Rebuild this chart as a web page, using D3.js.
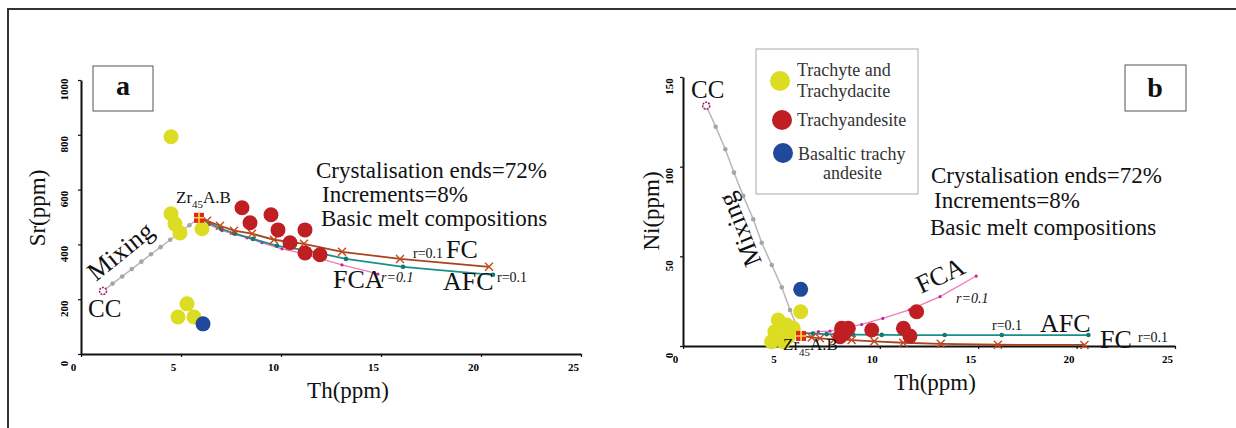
<!DOCTYPE html>
<html>
<head>
<meta charset="utf-8">
<script src="https://cdnjs.cloudflare.com/ajax/libs/d3/7.8.5/d3.min.js"></script>
<style>
body { margin: 0; background: #fff; }
svg { display: block; font-family: "Liberation Serif", "Times New Roman", serif; }
</style>
</head>
<body>
<svg id="fig" width="1236" height="428"></svg>
<script>
// ---- data ----
var thTicks = [0, 5, 10, 15, 20, 25];
var srTicks = [0, 200, 400, 600, 800, 1000];
var niTicks = [0, 50, 100, 150];

// panel a : Th vs Sr
var srTrachyte = [[4.5, 793], [4.5, 512], [4.7, 475], [4.95, 442], [6.05, 457], [5.3, 183], [4.85, 135], [5.65, 135]];
var srTrachyandesite = [[8.05, 534], [8.45, 479], [9.5, 508], [9.85, 453], [10.45, 406], [11.2, 453], [11.2, 369], [11.95, 362]];
var srBasaltic = [[6.1, 110]];
var srParent = [5.9, 497];
var srCC = [1.1, 230];
var srMixing = [[1.1, 230], [1.58, 257], [2.06, 283], [2.54, 310], [3.02, 337], [3.5, 364], [3.98, 390], [4.46, 417], [4.94, 444], [5.42, 470], [5.9, 497]];
var srFC = [[5.9, 497], [6.3, 486], [6.95, 468], [7.65, 450], [8.55, 439], [9.65, 417], [11.15, 402], [13.05, 373], [15.95, 347], [20.4, 318]];
var srAFC = [[5.9, 497], [6.4, 478], [7.0, 457], [7.7, 439], [8.6, 420], [9.8, 395], [11.35, 377], [13.25, 347], [16.1, 318], [20.6, 289]];
var srFCA = [[5.9, 497], [6.4, 472], [7.05, 450], [7.6, 439], [8.3, 424], [9.05, 406], [10.05, 384], [10.95, 369], [13.05, 325], [14.85, 292]];

// panel b : Th vs Ni
var niTrachyte = [[4.84, 14.5], [5.27, 11.7], [5.6, 9.9], [4.67, 8.0], [4.5, 2.4], [5.1, 2.4], [5.35, 5.2], [5.98, 19.1]];
var niTrachyandesite = [[8.06, 9.9], [8.4, 9.9], [7.98, 5.2], [8.2, 7.3], [9.59, 8.9], [11.2, 9.9], [11.53, 5.6], [11.87, 19.1]];
var niBasaltic = [[5.98, 31.6]];
var niParent = [6.0, 5.6];
var niCC = [1.18, 134];
var niMixing = [[1.18, 134], [1.66, 122.3], [2.15, 109.7], [2.59, 96.7], [3.06, 83.7], [3.57, 70.7], [4.0, 57.6], [4.51, 45.2], [5.02, 32.7], [5.44, 20.1], [6.0, 5.6]];
var niFC = [[6.0, 5.6], [6.54, 4.8], [6.96, 4.3], [7.7, 3.7], [8.57, 3.3], [9.72, 2.6], [11.19, 1.8], [13.1, 1.2], [16.0, 0.7], [20.4, 0.6]];
var niAFC = [[6.0, 7.5], [6.6, 6.9], [7.3, 6.6], [8.0, 6.4], [8.65, 6.3], [10.1, 6.2], [11.7, 6.1], [13.3, 6.1], [16.2, 6.1], [20.6, 6.1]];
var niFCA = [[6.0, 6.5], [6.88, 8.0], [7.47, 8.3], [9.08, 12.0], [10.15, 15.4], [11.5, 20.1], [13.06, 27.5], [14.9, 39]];

var legendNames = [['Trachyte and', 'Trachydacite'], ['Trachyandesite'], ['Basaltic trachy', 'andesite']];

var yellow = '#dcdc22', red = '#bf1e23', blue = '#1f4a9c';

var svg = d3.select('#fig');

// outer frame (only top and left edge fall inside the picture)
svg.append('rect')
    .attr('x', 8).attr('y', 9).attr('width', 1240).attr('height', 430)
    .attr('fill', 'none').attr('stroke', '#333').attr('stroke-width', 2);

function panel(cfg) {
    var x = d3.scaleLinear().domain([0, 25]).range(cfg.xRange);
    var y = d3.scaleLinear().domain(cfg.yDomain).range(cfg.yRange);
    var g = svg.append('g');

    var gx = g.append('g')
        .attr('transform', 'translate(0,' + cfg.yRange[0] + ')')
        .call(d3.axisBottom(x).tickValues(thTicks).tickSize(3).tickSizeOuter(0).tickFormat(d3.format('d')));
    var gy = g.append('g')
        .attr('transform', 'translate(' + cfg.xRange[0] + ',0)')
        .call(d3.axisLeft(y).tickValues(cfg.yTicks).tickSize(3).tickSizeOuter(0).tickFormat(d3.format('d')));

    [gx, gy].forEach(function (a) {
        a.attr('font-family', null).attr('font-size', 11).attr('font-weight', 'bold');
        a.select('.domain').attr('stroke', '#111').attr('stroke-width', 2);
        a.selectAll('.tick line').attr('stroke', '#111').attr('stroke-width', 1.2);
    });
    gx.selectAll('.tick text').attr('y', 17).attr('dy', 0).attr('x', -8);
    gy.selectAll('.tick text')
        .attr('x', 0).attr('dy', 0)
        .attr('text-anchor', 'middle')
        .attr('transform', 'translate(' + cfg.yLabelDx + ',9) rotate(-90)');

    var line = d3.line()
        .x(function (d) { return x(d[0]); })
        .y(function (d) { return y(d[1]); });

    // mixing
    g.append('path').attr('d', line(cfg.mixing))
        .attr('fill', 'none').attr('stroke', '#b8b8b8').attr('stroke-width', 1.5);
    g.selectAll('.mix').data(cfg.mixing.slice(1, -1)).enter().append('circle')
        .attr('cx', function (d) { return x(d[0]); })
        .attr('cy', function (d) { return y(d[1]); })
        .attr('r', 2.3).attr('fill', '#a5a5a5');

    // FCA
    g.append('path').attr('d', line(cfg.fca))
        .attr('fill', 'none').attr('stroke', '#f07ab8').attr('stroke-width', 1.3);
    g.selectAll('.fca').data(cfg.fca.slice(1)).enter().append('circle')
        .attr('cx', function (d) { return x(d[0]); })
        .attr('cy', function (d) { return y(d[1]); })
        .attr('r', 1.6).attr('fill', '#c8209a');

    // AFC
    g.append('path').attr('d', line(cfg.afc))
        .attr('fill', 'none').attr('stroke', '#1a8f8a').attr('stroke-width', 1.8);
    g.selectAll('.afc').data(cfg.afc.slice(1)).enter().append('circle')
        .attr('cx', function (d) { return x(d[0]); })
        .attr('cy', function (d) { return y(d[1]); })
        .attr('r', 2.3).attr('fill', '#127a76');

    // FC
    g.append('path').attr('d', line(cfg.fc))
        .attr('fill', 'none').attr('stroke', '#a8441e').attr('stroke-width', 1.8);
    g.selectAll('.fc').data(cfg.fc.slice(1)).enter().append('path')
        .attr('transform', function (d) { return 'translate(' + x(d[0]) + ',' + y(d[1]) + ')'; })
        .attr('d', 'M-4,-4L4,4M-4,4L4,-4')
        .attr('stroke', '#c8461c').attr('stroke-width', 1.4).attr('fill', 'none');

    // samples
    [[cfg.trachyte, yellow], [cfg.trachyandesite, red], [cfg.basaltic, blue]].forEach(function (s) {
        g.selectAll(null).data(s[0]).enter().append('circle')
            .attr('cx', function (d) { return x(d[0]); })
            .attr('cy', function (d) { return y(d[1]); })
            .attr('r', 7.5).attr('fill', s[1]);
    });

    // parent (Zr45 A.B) marker
    var p = g.append('g').attr('transform', 'translate(' + x(cfg.parent[0]) + ',' + y(cfg.parent[1]) + ')');
    p.append('rect').attr('x', -5).attr('y', -5).attr('width', 10).attr('height', 10).attr('fill', '#e8231e');
    p.append('path').attr('d', 'M-5,0H5M0,-5V5').attr('stroke', '#f5e23a').attr('stroke-width', 1.6);

    // CC marker
    g.append('circle')
        .attr('cx', x(cfg.cc[0])).attr('cy', y(cfg.cc[1])).attr('r', 3.5)
        .attr('fill', '#fff').attr('stroke', '#a0206a').attr('stroke-width', 1.6)
        .attr('stroke-dasharray', '2,1');

    return g;
}

function txt(g, s, px, py, size, extra) {
    var t = g.append('text').attr('x', px).attr('y', py).attr('font-size', size).attr('fill', '#111').text(s);
    if (extra) extra(t);
    return t;
}

function zrLabel(g, px, py, subDy) {
    var t = g.append('text').attr('x', px).attr('y', py).attr('font-size', 17).attr('fill', '#111');
    t.append('tspan').text('Zr');
    t.append('tspan').attr('font-size', 11).attr('dy', subDy).text('45');
    t.append('tspan').attr('dy', -subDy).text('A.B');
}

// ---------- panel a ----------
var ga = panel({
    xRange: [81, 581], yDomain: [0, 1000], yRange: [354, 80], yTicks: srTicks, yLabelDx: -13.5,
    trachyte: srTrachyte, trachyandesite: srTrachyandesite, basaltic: srBasaltic,
    parent: srParent, cc: srCC, mixing: srMixing, fc: srFC, afc: srAFC, fca: srFCA
});

ga.append('rect').attr('x', 93).attr('y', 66).attr('width', 60).attr('height', 45)
    .attr('fill', 'none').attr('stroke', '#555').attr('stroke-width', 1);
txt(ga, 'a', 123, 95, 28, function (t) { t.attr('font-weight', 'bold').attr('text-anchor', 'middle'); });

txt(ga, 'Sr(ppm)', 0, 0, 23, function (t) {
    t.attr('text-anchor', 'middle').attr('transform', 'translate(45,208) rotate(-90)');
});
txt(ga, 'Th(ppm)', 348, 398, 23, function (t) { t.attr('text-anchor', 'middle'); });

txt(ga, 'Crystalisation ends=72%', 316, 178, 23);
txt(ga, 'Increments=8%', 322, 202, 23);
txt(ga, 'Basic melt compositions', 321, 226, 23);

txt(ga, 'r=0.1', 413, 258, 14);
txt(ga, 'FC', 446, 258, 26);
txt(ga, 'FCA', 333, 288, 26);
txt(ga, 'r=0.1', 381, 282, 14, function (t) { t.attr('font-style', 'italic'); });
txt(ga, 'AFC', 443, 290, 26);
txt(ga, 'r=0.1', 497, 282, 14);
txt(ga, 'CC', 88, 317, 25);
txt(ga, 'Mixing', 0, 0, 26, function (t) { t.attr('transform', 'translate(96,282) rotate(-39)'); });
zrLabel(ga, 176, 203, 5);

// ---------- panel b ----------
var gb = panel({
    xRange: [683, 1175], yDomain: [0, 150], yRange: [346, 77], yTicks: niTicks, yLabelDx: -10.5,
    trachyte: niTrachyte, trachyandesite: niTrachyandesite, basaltic: niBasaltic,
    parent: niParent, cc: niCC, mixing: niMixing, fc: niFC, afc: niAFC, fca: niFCA
});

gb.append('rect').attr('x', 1125).attr('y', 65).attr('width', 61).attr('height', 46)
    .attr('fill', 'none').attr('stroke', '#555').attr('stroke-width', 1);
txt(gb, 'b', 1155, 97, 28, function (t) { t.attr('font-weight', 'bold').attr('text-anchor', 'middle'); });

txt(gb, 'Ni(ppm)', 0, 0, 23, function (t) {
    t.attr('text-anchor', 'middle').attr('transform', 'translate(659,211) rotate(-90)');
});
txt(gb, 'Th(ppm)', 935, 390, 23, function (t) { t.attr('text-anchor', 'middle'); });

txt(gb, 'Crystalisation ends=72%', 931, 183, 23);
txt(gb, 'Increments=8%', 934, 208, 23);
txt(gb, 'Basic melt compositions', 930, 235, 23);

txt(gb, 'FCA', 0, 0, 26, function (t) { t.attr('transform', 'translate(921,294) rotate(-25)'); });
txt(gb, 'r=0.1', 956, 303, 14, function (t) { t.attr('font-style', 'italic'); });
txt(gb, 'r=0.1', 992, 330, 14);
txt(gb, 'AFC', 1040, 332, 26);
txt(gb, 'FC', 1100, 348, 26);
txt(gb, 'r=0.1', 1138, 342, 14);
txt(gb, 'CC', 691, 98, 25);
txt(gb, 'Mixing', 0, 0, 26, function (t) { t.attr('transform', 'translate(762,262) rotate(-112)'); });
zrLabel(gb, 783, 350, 6);

// legend
var lg = gb.append('g');
lg.append('rect').attr('x', 756).attr('y', 49).attr('width', 162).attr('height', 145)
    .attr('fill', '#fff').attr('stroke', '#aaa').attr('stroke-width', 1);
var legendColors = [yellow, red, blue];
var legendDot = [[780, 81], [782, 120], [783, 153]];
var legendBase = [[76, 97], [126], [160, 179]];
var legendX = [[797, 797], [797], [798, 823]];
legendNames.forEach(function (names, i) {
    lg.append('circle').attr('cx', legendDot[i][0]).attr('cy', legendDot[i][1]).attr('r', 10).attr('fill', legendColors[i]);
    names.forEach(function (n, j) {
        lg.append('text').attr('x', legendX[i][j]).attr('y', legendBase[i][j])
            .attr('font-size', 18).attr('fill', '#333').text(n);
    });
});
</script>
</body>
</html>
